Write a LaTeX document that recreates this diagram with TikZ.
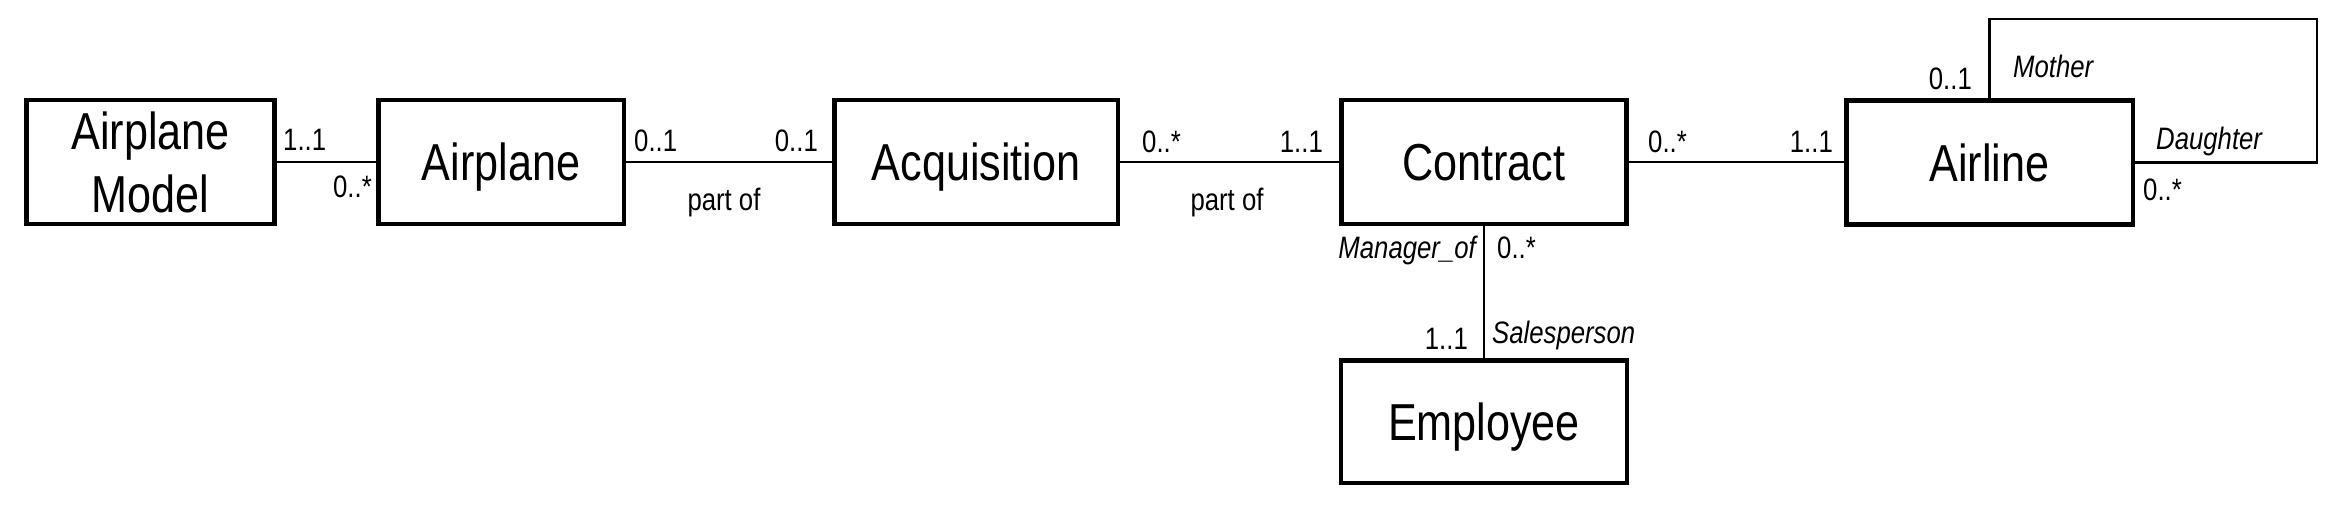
\documentclass[tikz,border=0pt]{standalone}
\usepackage{fontspec}
\setmainfont{Liberation Sans}[FakeStretch=0.83]
\begin{document}
\begin{tikzpicture}[x=1pt,y=-1pt,
  entity/.style={draw,line width=4.5pt,inner sep=0pt,minimum height=124pt,
    font=\fontsize{52}{63}\selectfont,align=center},
  oneline/.style={text height=37pt,text depth=0pt},
  conn/.style={line width=2.6pt},
  lbl/.style={inner sep=0pt,font=\fontsize{31}{36}\selectfont},
  role/.style={lbl,font=\fontsize{31}{36}\selectfont\itshape}]
\useasboundingbox (0,0) rectangle (2330,504);
% entities
\node[entity,minimum width=248pt] (am) at (150.5,162) {Airplane\\Model};
\node[entity,oneline,minimum width=245.5pt] (ap) at (501,162) {Airplane};
\node[entity,oneline,minimum width=283.5pt] (acq) at (976,162) {Acquisition};
\node[entity,oneline,minimum width=285pt] (con) at (1484,162) {Contract};
\node[entity,oneline,minimum width=286.5pt] (air) at (1989.5,162.5) {Airline};
\node[entity,oneline,minimum width=286pt,minimum height=122.5pt] (emp) at (1484,421.5) {Employee};
% connectors
\draw[conn] (am.east) -- (ap.west);
\draw[conn] (ap.east) -- (acq.west);
\draw[conn] (acq.east) -- (con.west);
\draw[conn] (con.east) -- (air.west |- con.east);
\draw[conn] (con.south) -- (emp.north);
\coordinate (lp) at (2317,19);
\draw[conn,line join=miter] (air.north) |- (lp) |- (air.east);
% multiplicities and labels
\node[lbl,anchor=base west] (m1) at (283,150) {1..1};
\node[lbl,anchor=base east] (m2) at (372,197) {0..*};
\node[lbl,anchor=base west] (m3) at (634,151) {0..1};
\node[lbl,anchor=base east] (m4) at (818,151) {0..1};
\node[lbl,anchor=base] (p1) at (724,210) {part of};
\node[lbl,anchor=base west] (m5) at (1142,152) {0..*};
\node[lbl,anchor=base east] (m6) at (1323,152) {1..1};
\node[lbl,anchor=base] (p2) at (1227,210) {part of};
\node[role,anchor=base east] (r1) at (1476,258) {Manager\_of};
\node[lbl,anchor=base west] (m7) at (1497,258) {0..*};
\node[lbl,anchor=base east] (m8) at (1468,349) {1..1};
\node[role,anchor=base west] (r2) at (1492,343) {Salesperson};
\node[lbl,anchor=base west] (m9) at (1648,152) {0..*};
\node[lbl,anchor=base east] (m10) at (1833,152) {1..1};
\node[lbl,anchor=base east] (m11) at (1972,89) {0..1};
\node[role,anchor=base west] (r3) at (2013,77) {Mother};
\node[role,anchor=base west] (r4) at (2156,149) {Daughter};
\node[lbl,anchor=base west] (m12) at (2143,200) {0..*};
\end{tikzpicture}
\end{document}
